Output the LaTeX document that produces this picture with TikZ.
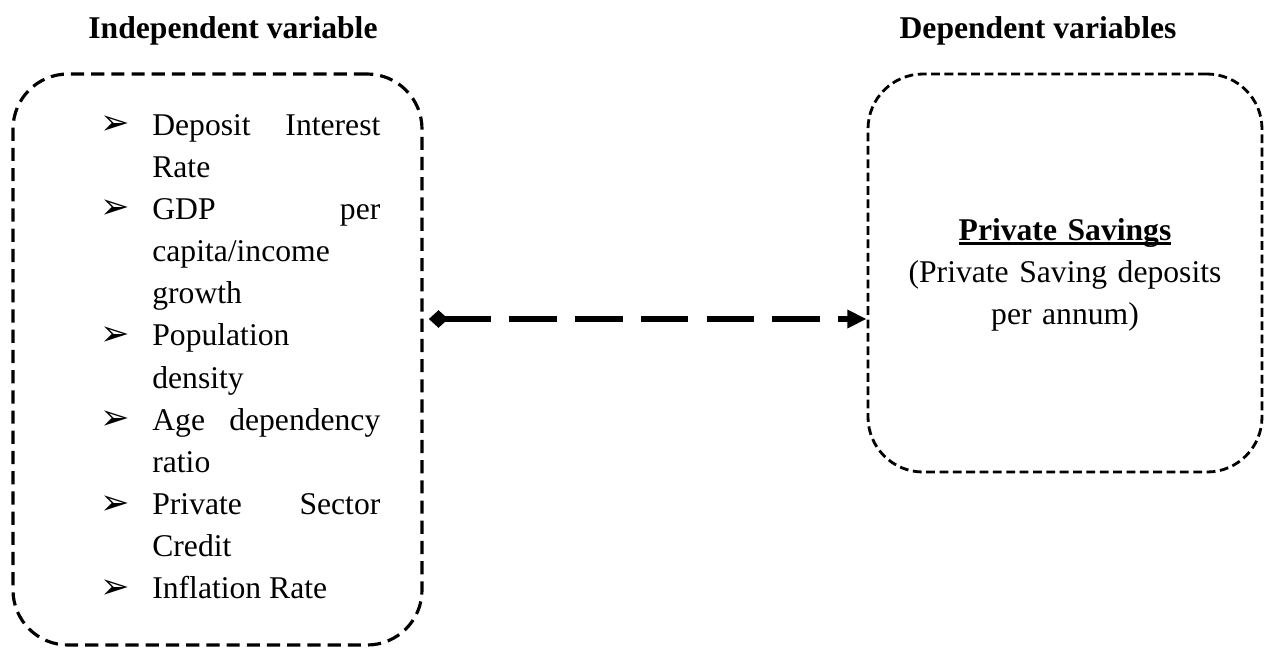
\documentclass[tikz,border=0pt]{standalone}
\usepackage{fontspec}
\setmainfont{Liberation Serif}
\newfontfamily\symfont{DejaVu Sans}
\usetikzlibrary{arrows.meta}
\newcommand\itm{\noindent\hangindent=1.04cm\hangafter=1\makebox[1.04cm][l]{\raisebox{0.3pt}{\symfont\fontsize{20}{20}\selectfont ➢}}}
\newcommand\ulined[1]{\setbox0\hbox{#1}\rlap{\rule[-2.6pt]{\wd0}{1.2pt}}\box0}

\begin{document}
\begin{tikzpicture}[font=\fontsize{18}{24}\selectfont,
  box/.style={draw,line width=1.8pt,rounded corners=1.1cm,inner sep=0pt},
  head/.style={font=\fontsize{18}{24}\selectfont\bfseries,anchor=base,inner sep=0pt}]
  \useasboundingbox (0,0) rectangle (25.4,-12.98);
  \node[head] (hind) at (4.66,-0.76){Independent variable};
  \node[head] (hdep) at (20.76,-0.76){Dependent variables};
  \node[box,dash pattern=on 7.5pt off 4pt,minimum width=8.18cm,minimum height=11.42cm] (indep) at (4.35,-7.19){};
  \node[box,line width=1.6pt,dash pattern=on 5pt off 2.6pt,minimum width=7.88cm,minimum height=7.96cm] (dep) at (21.3,-5.46){};
  \node[anchor=base west,inner sep=0pt,text width=5.6cm,align=justify] (vars) at (2.0,-2.7){%
    \itm Deposit Interest\linebreak Rate\par
    \itm GDP per\linebreak capita/income\newline growth\par
    \itm Population\newline density\par
    \itm Age dependency\linebreak ratio\par
    \itm Private Sector\linebreak Credit\par
    \itm Inflation Rate};
  \node[anchor=base,inner sep=0pt,text width=7cm,align=center] (dtxt) at (21.3,-4.8){\ulined{\textbf{Private Savings}}\\(Private Saving deposits\\per annum)};
  \coordinate (lvl) at (0,-6.38);
  \draw[line width=3.4pt,dash pattern=on 27pt off 10.4pt,{Diamond[length=11pt,width=10pt]}-{Triangle[length=11pt,width=10pt]}] ([xshift=3pt]indep.east |- lvl) -- (dep.west |- lvl);
\end{tikzpicture}
\end{document}
